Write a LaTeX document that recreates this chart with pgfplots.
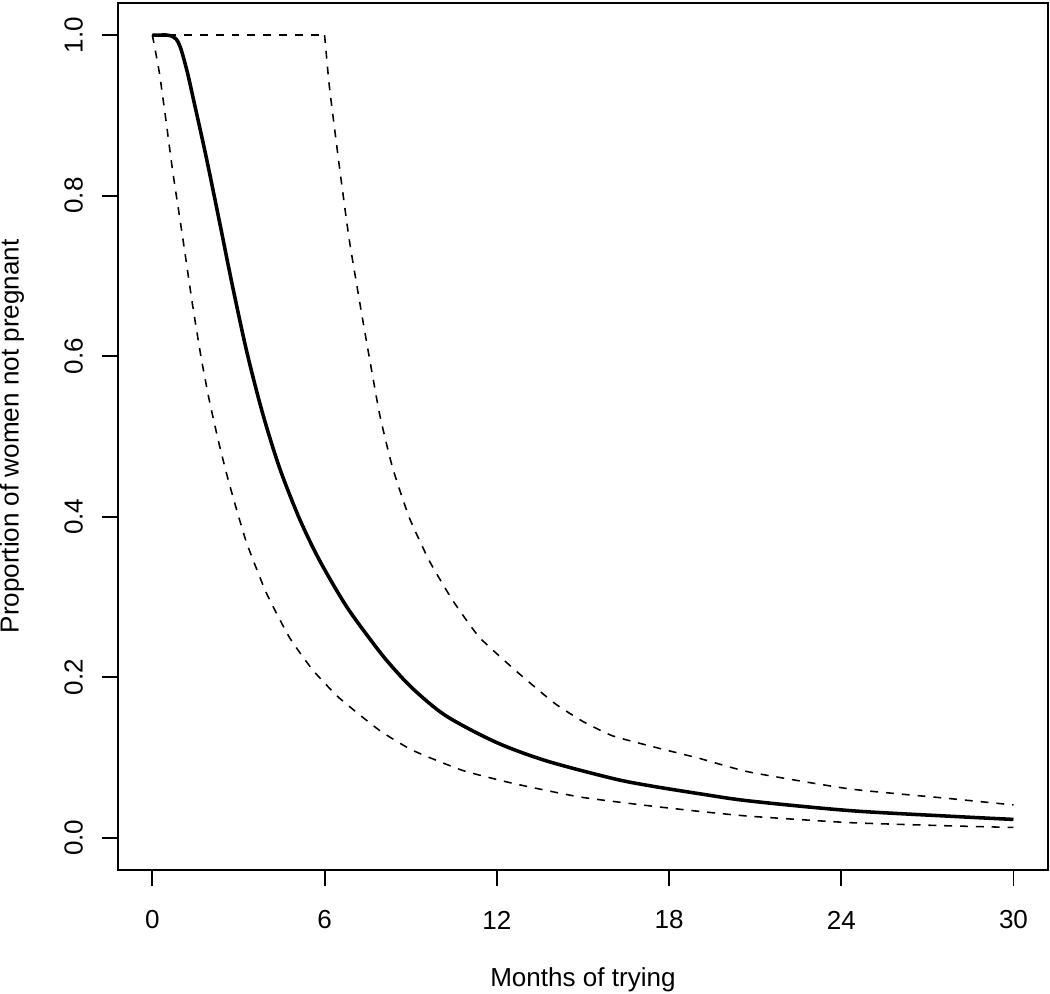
\documentclass[border=0pt]{standalone}
\usepackage{fontspec}
\setmainfont{Liberation Sans}
\usepackage{pgfplots}
\pgfplotsset{compat=1.18}
\begin{document}
\begin{tikzpicture}
\begin{axis}[
  scale only axis,
  width=446.4pt, height=416.2pt,
  xmin=-1.2, xmax=31.2, ymin=-0.04, ymax=1.04,
  xtick={0,6,12,18,24,30},
  ytick={0,0.2,0.4,0.6,0.8,1.0},
  /pgf/number format/assume math mode=true,
  tick align=outside,
  major tick length=7.7pt,
  axis x line*=bottom, axis y line*=left,
  separate axis lines,
  every outer x axis line/.append style={draw=none},
  every outer y axis line/.append style={draw=none},
  tick style={line width=0.9pt, black},
  xtick pos=bottom, ytick pos=left,
  ticklabel style={font=\fontsize{12.5}{15}\selectfont},
  xticklabel style={anchor=center, yshift=-16.3pt},
  yticklabel style={/pgf/number format/fixed, /pgf/number format/fixed zerofill, /pgf/number format/precision=1, rotate=90, anchor=center, yshift=13.5pt},
  label style={font=\fontsize{12.5}{15}\selectfont},
  xlabel={Months of trying},
  ylabel={Proportion of women not pregnant},
  xlabel style={at={(axis description cs:0.5,-0.1267)}, anchor=center},
  ylabel style={at={(axis description cs:-0.1140,0.5)}, anchor=center},
  clip=false,
]
% axis box
\draw[line width=0.9pt] (axis cs:-1.2,-0.04) rectangle (axis cs:31.2,1.04);
\addplot[black, line width=1.7pt, smooth, tension=0.5] coordinates {
(0,1) (0.3,1) (0.5,1) (0.65,0.999) (0.83,0.995) (0.95,0.987) (1.06,0.975)
(1.23,0.952) (1.40,0.925) (1.87,0.849)
(2.33,0.769) (2.80,0.686) (3.30,0.604) (3.84,0.529) (4.43,0.461) (5.12,0.398)
(5.82,0.346) (6.75,0.289) (7.68,0.243) (8.26,0.217) (9.07,0.186) (10.23,0.152)
(11.98,0.119) (13.72,0.096) (16.04,0.074) (17.32,0.065) (19.06,0.055)
(20.8,0.046) (24.29,0.034) (27.77,0.027) (30,0.023)
};
\addplot[black, line width=0.75pt, dash pattern=on 3.8pt off 3.8pt, smooth, tension=0.3] coordinates {
(0,1) (0.24,0.954) (0.48,0.892) (0.71,0.830) (1.06,0.747) (1.40,0.664)
(1.70,0.598) (1.99,0.544) (2.33,0.490) (2.68,0.441) (3.26,0.370) (3.96,0.306)
(4.77,0.250) (5.59,0.209) (6.52,0.174) (7.91,0.134) (9.07,0.109) (10.81,0.084)
(12.55,0.068) (14.88,0.051) (17.3,0.040) (19.06,0.033) (20.8,0.027)
(24.29,0.019) (27.77,0.015) (30,0.013)
};
\addplot[black, line width=0.75pt, dash pattern=on 3.8pt off 3.8pt] coordinates {
(0,1) (6,1)
};
\addplot[black, line width=0.75pt, dash pattern=on 3.8pt off 3.8pt, smooth, tension=0.3] coordinates {
(6,1) (6.17,0.935) (6.52,0.835) (6.86,0.745) (7.33,0.645) (7.91,0.529)
(8.37,0.461) (8.95,0.399) (9.65,0.345) (10.46,0.296) (11.39,0.250) (12.7,0.207)
(14.0,0.168) (15.0,0.145) (16.04,0.127) (17.5,0.113) (19.06,0.099) (20.8,0.082)
(24.29,0.061) (27.77,0.049) (30,0.041)
};
\end{axis}
\pgfresetboundingbox
\path (current axis.south west) ++(-56.6pt,-59.5pt) coordinate (BL);
\path (current axis.north east) ++(1pt,1.4pt) coordinate (TR);
\path (BL) rectangle (TR);
\end{tikzpicture}
\end{document}
